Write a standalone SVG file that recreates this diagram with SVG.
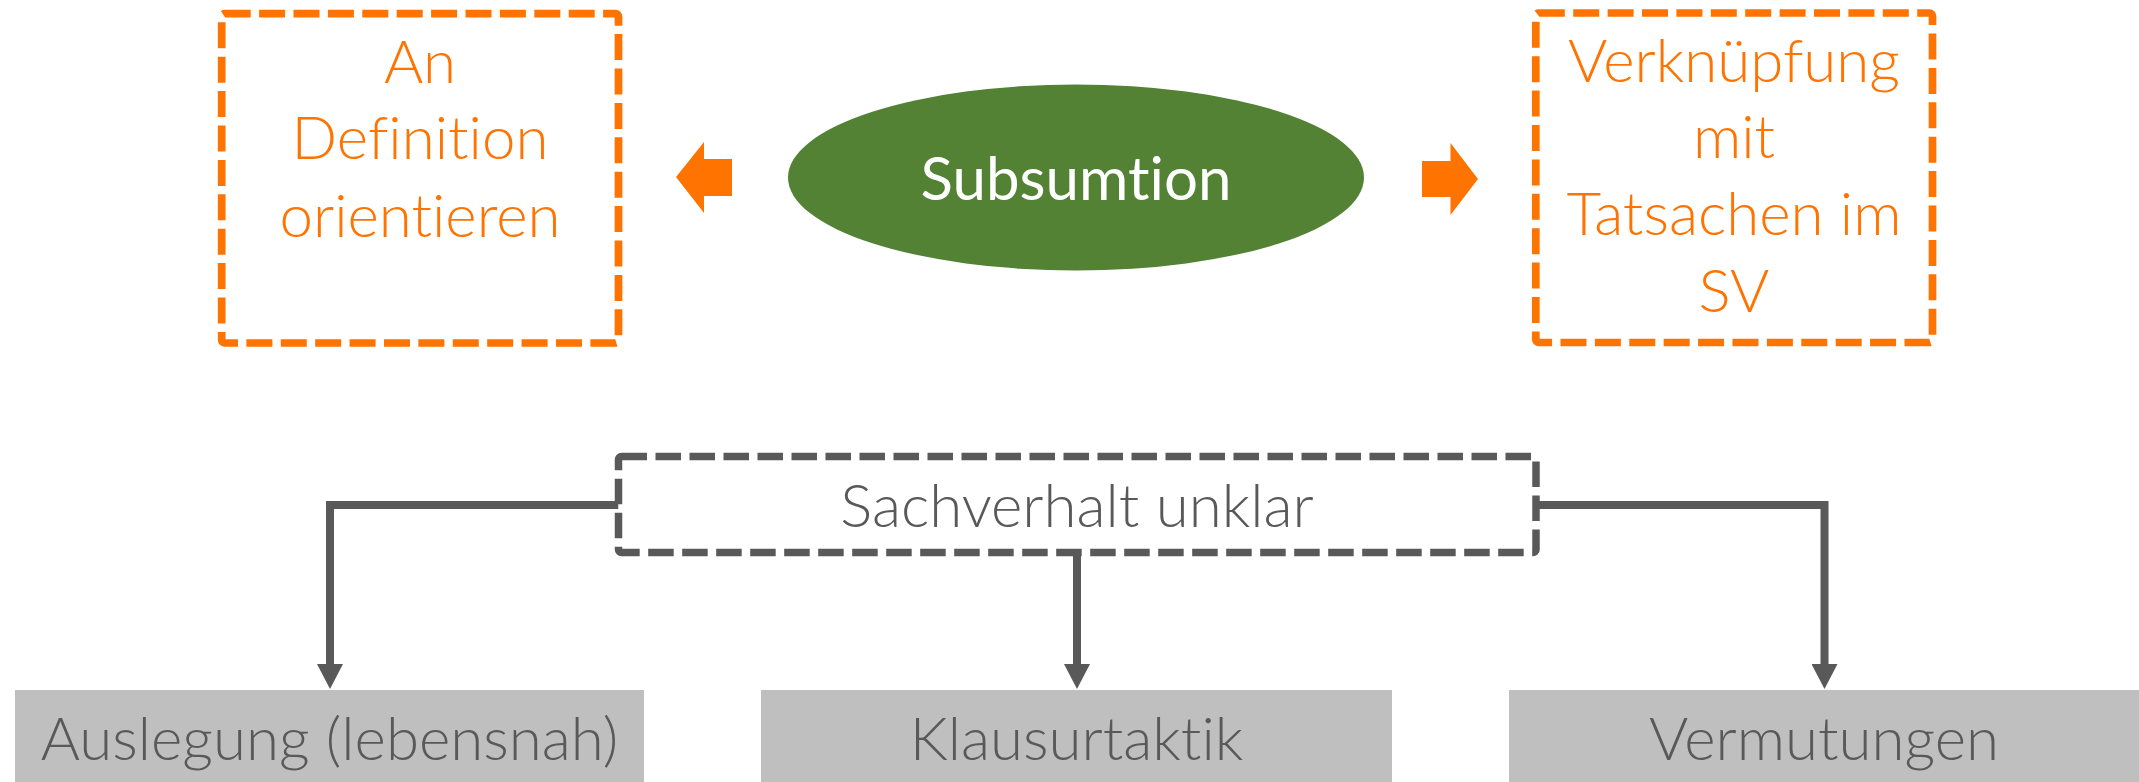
<svg xmlns="http://www.w3.org/2000/svg" width="2139" height="782" viewBox="0 0 2139 782">
<defs>
<style>
text{font-variant-ligatures:none;font-feature-settings:"liga" 0,"clig" 0}
.orange-box{fill:none;stroke:#FF7300;stroke-width:7.7;stroke-dasharray:26 8.4}
.gray-dash{fill:#FFFFFF;stroke:#595959;stroke-width:7.5;stroke-dasharray:25.5 8.5}
.otext{font-family:Lato,"Open Sans","Liberation Sans",sans-serif;font-weight:300;font-size:60px;fill:#FF7300;text-anchor:middle}
.gtext{font-family:Lato,"Open Sans","Liberation Sans",sans-serif;font-weight:300;font-size:60px;fill:#595959;text-anchor:middle}
.wtext{font-family:Lato,"Open Sans","Liberation Sans",sans-serif;font-weight:400;font-size:60px;fill:#FFFFFF;text-anchor:middle}
.gbox{fill:#BFBFBF}
.conn{fill:none;stroke:#595959;stroke-width:8}
.oarrow{fill:#FF7300}
</style>
<marker id="ah" markerUnits="userSpaceOnUse" markerWidth="26" markerHeight="26" viewBox="0 0 25 26" refX="0" refY="13" orient="auto">
<path d="M0,0 L25,13 L0,26 z" fill="#595959"/>
</marker>
</defs>
<g id="connectors">
<path class="conn" d="M618.5,505 H330 V664" marker-end="url(#ah)"/>
<path class="conn" d="M1077,552.5 V664" marker-end="url(#ah)"/>
<path class="conn" d="M1536,505 H1824.5 V664" marker-end="url(#ah)"/>
</g>
<g id="node-definition">
<rect class="orange-box" x="221.7" y="13.7" width="396.8" height="329.3" rx="3"/>
<text class="otext" x="420" y="83">An</text>
<text class="otext" x="420" y="159">Definition</text>
<text class="otext" x="420" y="237">orientieren</text>
</g>
<g id="arrow-left">
<polygon class="oarrow" points="676,177 704,142 704,159 732,159 732,196 704,196 704,213"/>
</g>
<g id="node-subsumtion">
<ellipse cx="1076" cy="177.5" rx="288" ry="93" fill="#548235"/>
<text class="wtext" x="1076" y="200">Subsumtion</text>
</g>
<g id="arrow-right">
<polygon class="oarrow" points="1478,179 1450.5,143 1450.5,161 1422,161 1422,197 1450.5,197 1450.5,215"/>
</g>
<g id="node-verknuepfung">
<rect class="orange-box" x="1535.8" y="13" width="396.7" height="329.5" rx="3"/>
<text class="otext" x="1734" y="82">Verknüpfung</text>
<text class="otext" x="1734" y="158">mit</text>
<text class="otext" x="1734" y="235">Tatsachen im</text>
<text class="otext" x="1734" y="312">SV</text>
</g>
<g id="node-sachverhalt">
<rect class="gray-dash" x="618.5" y="456.5" width="917.5" height="96" rx="3"/>
<text class="gtext" x="1077" y="527">Sachverhalt unklar</text>
</g>
<g id="node-auslegung">
<rect class="gbox" x="15" y="690" width="629" height="95"/>
<text class="gtext" x="329.5" y="760">Auslegung (lebensnah)</text>
</g>
<g id="node-klausurtaktik">
<rect class="gbox" x="761" y="690" width="631" height="95"/>
<text class="gtext" x="1076.5" y="760">Klausurtaktik</text>
</g>
<g id="node-vermutungen">
<rect class="gbox" x="1509" y="690" width="632" height="95"/>
<text class="gtext" x="1824" y="760">Vermutungen</text>
</g>
</svg>
